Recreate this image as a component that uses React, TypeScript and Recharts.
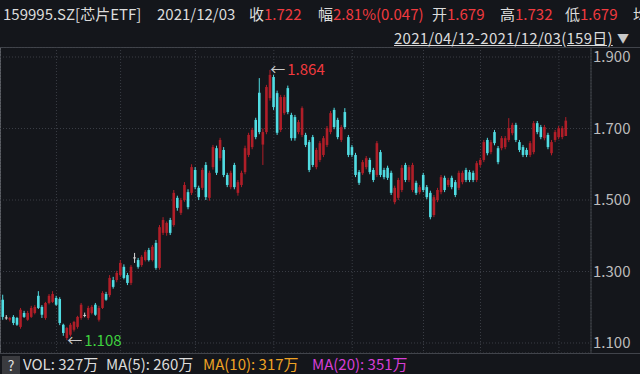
import React from 'react'
import {
  ComposedChart,
  Bar,
  XAxis,
  YAxis,
  CartesianGrid,
  ReferenceDot,
} from 'recharts'

// OHLC of 159995.SZ (芯片ETF), 2021/04/12 - 2021/12/03, 159 trading days
const OPEN = [
  1.221, 1.17, 1.165, 1.173, 1.17, 1.145, 1.184, 1.165, 1.173, 1.184,
  1.232, 1.201, 1.17, 1.212, 1.215, 1.226, 1.223, 1.151, 1.114, 1.123,
  1.137, 1.145, 1.17, 1.177, 1.17, 1.184, 1.207, 1.165, 1.198, 1.237,
  1.234, 1.276, 1.276, 1.29, 1.313, 1.29, 1.268, 1.338, 1.332, 1.318,
  1.332, 1.36, 1.332, 1.38, 1.31, 1.408, 1.408, 1.444, 1.43, 1.506,
  1.464, 1.5, 1.522, 1.52, 1.584, 1.534, 1.534, 1.598, 1.506, 1.592,
  1.645, 1.617, 1.64, 1.57, 1.536, 1.598, 1.52, 1.542, 1.578, 1.626,
  1.648, 1.724, 1.8, 1.655, 1.69, 1.785, 1.844, 1.799, 1.696, 1.743,
  1.813, 1.738, 1.732, 1.69, 1.682, 1.682, 1.662, 1.676, 1.592, 1.612,
  1.626, 1.654, 1.69, 1.752, 1.724, 1.668, 1.746, 1.676, 1.648, 1.626,
  1.578, 1.575, 1.592, 1.612, 1.584, 1.57, 1.634, 1.584, 1.59, 1.576,
  1.494, 1.506, 1.528, 1.598, 1.556, 1.528, 1.548, 1.522, 1.57, 1.536,
  1.52, 1.458, 1.5, 1.522, 1.562, 1.542, 1.562, 1.55, 1.534, 1.55,
  1.584, 1.578, 1.576, 1.556, 1.598, 1.612, 1.668, 1.634, 1.69, 1.645,
  1.645, 1.648, 1.668, 1.687, 1.71, 1.662, 1.648, 1.64, 1.626, 1.634,
  1.715, 1.704, 1.673, 1.682, 1.631, 1.668, 1.676, 1.676, 1.679,
]
const HIGH = [
  1.235, 1.178, 1.173, 1.178, 1.173, 1.198, 1.19, 1.19, 1.204, 1.206,
  1.245, 1.206, 1.215, 1.237, 1.245, 1.232, 1.228, 1.154, 1.145, 1.156,
  1.162, 1.176, 1.212, 1.185, 1.204, 1.206, 1.212, 1.204, 1.245, 1.243,
  1.29, 1.285, 1.302, 1.332, 1.32, 1.296, 1.318, 1.352, 1.338, 1.346,
  1.36, 1.366, 1.374, 1.388, 1.43, 1.452, 1.44, 1.45, 1.528, 1.512,
  1.506, 1.55, 1.53, 1.6, 1.592, 1.54, 1.59, 1.606, 1.582, 1.654,
  1.652, 1.674, 1.648, 1.576, 1.582, 1.604, 1.556, 1.582, 1.652, 1.688,
  1.702, 1.73, 1.841, 1.7, 1.822, 1.864, 1.85, 1.806, 1.794, 1.794,
  1.82, 1.744, 1.738, 1.724, 1.762, 1.688, 1.668, 1.682, 1.646, 1.665,
  1.679, 1.707, 1.749, 1.758, 1.73, 1.71, 1.757, 1.682, 1.654, 1.632,
  1.584, 1.612, 1.623, 1.618, 1.59, 1.665, 1.64, 1.59, 1.596, 1.582,
  1.54, 1.562, 1.598, 1.604, 1.598, 1.604, 1.554, 1.542, 1.576, 1.542,
  1.526, 1.514, 1.534, 1.57, 1.568, 1.562, 1.568, 1.556, 1.582, 1.582,
  1.59, 1.584, 1.582, 1.609, 1.618, 1.668, 1.674, 1.668, 1.696, 1.651,
  1.679, 1.679, 1.729, 1.716, 1.716, 1.668, 1.654, 1.646, 1.665, 1.721,
  1.721, 1.71, 1.71, 1.688, 1.668, 1.696, 1.707, 1.707, 1.732,
]
const LOW = [
  1.165, 1.165, 1.16, 1.15, 1.148, 1.14, 1.17, 1.162, 1.17, 1.18,
  1.195, 1.17, 1.165, 1.208, 1.212, 1.204, 1.15, 1.12, 1.108, 1.118,
  1.132, 1.14, 1.165, 1.172, 1.165, 1.18, 1.176, 1.16, 1.195, 1.218,
  1.228, 1.252, 1.27, 1.285, 1.278, 1.262, 1.262, 1.324, 1.308, 1.313,
  1.328, 1.328, 1.328, 1.305, 1.305, 1.402, 1.4, 1.402, 1.425, 1.47,
  1.458, 1.495, 1.474, 1.514, 1.53, 1.5, 1.528, 1.5, 1.498, 1.585,
  1.57, 1.61, 1.564, 1.536, 1.53, 1.53, 1.512, 1.536, 1.572, 1.62,
  1.642, 1.67, 1.684, 1.598, 1.684, 1.778, 1.752, 1.682, 1.69, 1.738,
  1.74, 1.666, 1.666, 1.684, 1.676, 1.648, 1.578, 1.592, 1.586, 1.606,
  1.62, 1.648, 1.684, 1.698, 1.67, 1.662, 1.698, 1.62, 1.62, 1.564,
  1.542, 1.57, 1.586, 1.572, 1.55, 1.564, 1.564, 1.558, 1.556, 1.514,
  1.488, 1.5, 1.522, 1.55, 1.55, 1.522, 1.514, 1.516, 1.522, 1.502,
  1.446, 1.452, 1.494, 1.516, 1.522, 1.536, 1.53, 1.508, 1.528, 1.544,
  1.55, 1.55, 1.55, 1.55, 1.592, 1.606, 1.625, 1.628, 1.653, 1.6,
  1.639, 1.642, 1.662, 1.681, 1.662, 1.634, 1.62, 1.62, 1.62, 1.628,
  1.684, 1.67, 1.667, 1.642, 1.625, 1.662, 1.67, 1.67, 1.679,
]
const CLOSE = [
  1.173, 1.17, 1.17, 1.156, 1.151, 1.193, 1.173, 1.184, 1.198, 1.201,
  1.198, 1.179, 1.212, 1.232, 1.237, 1.207, 1.156, 1.128, 1.142, 1.151,
  1.159, 1.173, 1.207, 1.177, 1.198, 1.201, 1.179, 1.198, 1.24, 1.221,
  1.282, 1.257, 1.296, 1.324, 1.282, 1.268, 1.313, 1.338, 1.313, 1.341,
  1.355, 1.332, 1.369, 1.31, 1.424, 1.444, 1.436, 1.408, 1.52, 1.478,
  1.5, 1.542, 1.48, 1.592, 1.536, 1.508, 1.584, 1.508, 1.576, 1.648,
  1.576, 1.668, 1.57, 1.542, 1.576, 1.536, 1.55, 1.576, 1.645, 1.682,
  1.696, 1.676, 1.69, 1.69, 1.816, 1.85, 1.76, 1.688, 1.788, 1.788,
  1.746, 1.673, 1.673, 1.718, 1.757, 1.654, 1.584, 1.598, 1.64, 1.659,
  1.673, 1.701, 1.743, 1.704, 1.676, 1.704, 1.704, 1.626, 1.626, 1.57,
  1.548, 1.606, 1.617, 1.578, 1.556, 1.659, 1.57, 1.564, 1.562, 1.52,
  1.534, 1.556, 1.59, 1.556, 1.592, 1.598, 1.52, 1.536, 1.528, 1.508,
  1.452, 1.508, 1.528, 1.564, 1.528, 1.556, 1.536, 1.514, 1.576, 1.576,
  1.556, 1.556, 1.556, 1.603, 1.612, 1.662, 1.631, 1.662, 1.659, 1.606,
  1.673, 1.673, 1.701, 1.71, 1.668, 1.64, 1.626, 1.626, 1.659, 1.715,
  1.69, 1.676, 1.704, 1.648, 1.662, 1.69, 1.701, 1.701, 1.722,
]

// first trading day of May..Dec (index into the series)
const MONTH_STARTS = [15, 33, 54, 76, 98, 118, 134, 156]
const PRICE_TICKS = [1.1, 1.3, 1.5, 1.7, 1.9]

const COLORS = {
  bg: '#14161b',
  up: '#b01e28',
  down: '#50dce2',
  flat: '#d8d8d8',
  text: '#dcdcdc',
  axis: '#bcbcbc',
  red: '#f03a3f',
  green: '#3fd23f',
  orange: '#eea224',
  magenta: '#d63ed6',
  grid: '#3a3d45',
  line: '#41444b',
}

const FONT = '"Microsoft YaHei", "Noto Sans CJK SC", "Noto Sans", sans-serif'

const data = CLOSE.map((close, i) => ({
  idx: i,
  open: OPEN[i],
  high: HIGH[i],
  low: LOW[i],
  close,
  range: [LOW[i], HIGH[i]],
}))

let maxIdx = 0
let minIdx = 0
HIGH.forEach((h, i) => {
  if (h > HIGH[maxIdx]) maxIdx = i
})
LOW.forEach((l, i) => {
  if (l < LOW[minIdx]) minIdx = i
})

function Candle(props: any) {
  const { x, y, width, height, payload } = props
  if (!payload) return null
  const { open, close, high, low } = payload
  const top = Math.min(y, y + height)
  const bottom = Math.max(y, y + height)
  const toY = (v: number) => top + ((high - v) / (high - low)) * (bottom - top)
  const cx = x + width / 2
  const color = close > open ? COLORS.up : close < open ? COLORS.down : COLORS.flat
  const bt = toY(Math.max(open, close))
  const bb = toY(Math.min(open, close))
  return (
    <g>
      <line x1={cx} x2={cx} y1={top} y2={bottom} stroke={color} strokeWidth={1} />
      {bb - bt < 1 ? (
        <line x1={cx - 1.4} x2={cx + 1.4} y1={bt} y2={bt} stroke={color} strokeWidth={1} />
      ) : (
        <rect x={cx - 1.3} y={bt} width={2.6} height={bb - bt} fill={color} />
      )}
    </g>
  )
}

function Extreme({ cx, cy, value, color }: any) {
  return (
    <g fontFamily={FONT} fontSize={15}>
      <text x={cx} y={cy} dy="0.36em" fill="#c8c8c8">
        ←
      </text>
      <text x={cx + 17} y={cy} dy="0.36em" fill={color}>
        {value.toFixed(3)}
      </text>
    </g>
  )
}

const abs = (left: number, top: number, extra: React.CSSProperties = {}): React.CSSProperties => ({
  position: 'absolute',
  left,
  top,
  whiteSpace: 'nowrap',
  ...extra,
})

export default function App() {
  return (
    <div
      style={{
        position: 'absolute',
        left: 0,
        top: 0,
        width: 640,
        height: 374,
        background: COLORS.bg,
        overflow: 'hidden',
        fontFamily: FONT,
        fontSize: 15,
        color: COLORS.text,
        lineHeight: '20px',
      }}
    >
      {/* header row 1 */}
      <div style={abs(3, 4)}>159995.SZ[芯片ETF]</div>
      <div style={abs(157, 4)}>2021/12/03</div>
      <div style={abs(249, 4)}>
        收<span style={{ color: COLORS.red }}>1.722</span>
      </div>
      <div style={abs(318, 4)}>
        幅<span style={{ color: COLORS.red }}>2.81%(0.047)</span>
      </div>
      <div style={abs(432, 4)}>
        开<span style={{ color: COLORS.red }}>1.679</span>
      </div>
      <div style={abs(500, 4)}>
        高<span style={{ color: COLORS.red }}>1.732</span>
      </div>
      <div style={abs(565, 4)}>
        低<span style={{ color: COLORS.red }}>1.679</span>
      </div>
      <div style={abs(633, 4)}>均</div>

      {/* header row 2 */}
      <div style={abs(394, 28, { textDecoration: 'underline', letterSpacing: 0.25 })}>
        2021/04/12-2021/12/03(159日)
      </div>
      <div style={abs(617, 31, { color: '#c8c8c8', fontSize: 12, lineHeight: '14px' })}>▼</div>

      <div style={abs(0, 47, { width: 640, height: 1, background: COLORS.line })} />
      <div style={abs(0, 47, { width: 1, height: 306, background: '#5a5d63' })} />

      <div style={abs(0, 47)}>
        <ComposedChart
          width={640}
          height={306}
          data={data}
          margin={{ top: 0, right: 0, bottom: 0, left: 0 }}
          style={{ overflow: 'visible' }}
        >
          <CartesianGrid stroke={COLORS.grid} strokeDasharray="1 2" />
          <XAxis
            dataKey="idx"
            type="number"
            domain={[-0.84, 165]}
            allowDataOverflow
            ticks={MONTH_STARTS}
            hide
          />
          <YAxis
            orientation="right"
            width={49}
            domain={[1.072, 1.928]}
            allowDataOverflow
            ticks={PRICE_TICKS}
            tickFormatter={(v: number) => v.toFixed(3)}
            tick={{ fill: COLORS.axis, fontSize: 15, fontFamily: FONT }}
            tickLine={false}
            tickSize={0}
            tickMargin={2}
            axisLine={{ stroke: COLORS.line }}
          />
          <Bar dataKey="range" barSize={3} shape={Candle} isAnimationActive={false} />
          <ReferenceDot
            x={maxIdx}
            y={HIGH[maxIdx]}
            r={0}
            shape={(p: any) => <Extreme {...p} value={HIGH[maxIdx]} color={COLORS.red} />}
          />
          <ReferenceDot
            x={minIdx}
            y={LOW[minIdx]}
            r={0}
            shape={(p: any) => <Extreme {...p} value={LOW[minIdx]} color={COLORS.green} />}
          />
        </ComposedChart>
      </div>

      <div style={abs(0, 353, { width: 640, height: 1, background: COLORS.line })} />

      {/* volume legend bar */}
      <div
        style={abs(2, 356, {
          width: 18,
          height: 18,
          background: '#3a3b3f',
          color: '#e0e0e0',
          textAlign: 'center',
          lineHeight: '18px',
          fontSize: 14,
        })}
      >
        ?
      </div>
      <div style={abs(23, 354)}>VOL: 327万</div>
      <div style={abs(106, 354)}>MA(5): 260万</div>
      <div style={abs(203, 354, { color: COLORS.orange })}>MA(10): 317万</div>
      <div style={abs(312, 354, { color: COLORS.magenta })}>MA(20): 351万</div>
    </div>
  )
}
